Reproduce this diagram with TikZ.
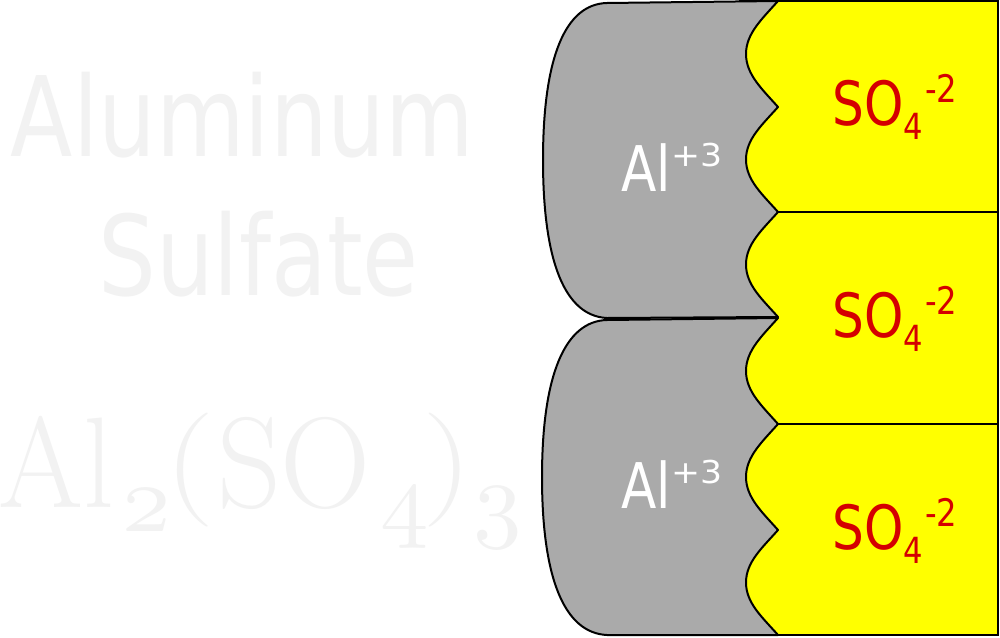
\documentclass[tikz,border=0pt]{standalone}
\usepackage{fontspec}
\usepackage{graphicx}
\newfontfamily\tahA[FakeStretch=0.82]{DejaVu Sans}
\newfontfamily\tahB[FakeStretch=1.1]{DejaVu Sans}
\newfontfamily\tahC[FakeStretch=0.85]{DejaVu Sans}
\definecolor{alu}{HTML}{AAAAAA}
\definecolor{sored}{HTML}{D40000}
\definecolor{ghostgray}{HTML}{F2F2F2}
\definecolor{soyellow}{HTML}{FFFF00}
\newcommand{\osdig}[1]{\scalebox{9.7}{$\mathnormal{#1}$}}
\begin{document}
\begin{tikzpicture}[x=1pt,y=-1pt,
  ionshape/.style={draw=black, line width=2pt, fill=alu, line join=round},
  sobox/.style={draw=black, line width=2pt, fill=soyellow},
  lab/.style={inner sep=0pt, outer sep=0pt, anchor=base west},
  ghost/.style={text=ghostgray, inner sep=0pt, outer sep=0pt, anchor=base west}]
\useasboundingbox (0,0) rectangle (1000,637);
\fill[white] (0,0) rectangle (1000,637);

% background texts
\node[ghost, anchor=base] (w1) at (242.5,156) {\tahA\fontsize{111}{111}\selectfont Aluminum};
\node[ghost, anchor=base] (w2) at (258.5,295) {\tahA\fontsize{111}{111}\selectfont Sulfate};
\node[ghost] (f1) at (-1.5,507) {\scalebox{0.95}[1]{\fontsize{129}{129}\selectfont Al}};
\node[ghost] (f2) at (122,531) {\osdig{2}};
\node[ghost] (f3) at (164,498.5) {\scalebox{1.25}[1]{\fontsize{114}{114}\selectfont (}};
\node[ghost] (f4) at (217,507) {\scalebox{0.97}[1]{\fontsize{129}{129}\selectfont SO}};
\node[ghost] (f5) at (380,529) {\osdig{4}};
\node[ghost] (f6) at (422.5,498.5) {\scalebox{1.25}[1]{\fontsize{114}{114}\selectfont )}};
\node[ghost] (f7) at (473,529) {\osdig{3}};

% sulfate boxes
\draw[sobox] (740,1) rectangle (998,212);
\draw[sobox] (740,212) rectangle (998,424);
\draw[sobox] (740,424) rectangle (998,635);

% aluminum shapes
\draw[ionshape] (607,3) -- (778,1)
  .. controls (762,19) and (746,33.5) .. (746,54)
  .. controls (746,74.5) and (762,89) .. (778,107)
  .. controls (762,125) and (746,139) .. (746,159.5)
  .. controls (746,180) and (762,194) .. (778,212)
  .. controls (762,230) and (746,244) .. (746,264.5)
  .. controls (746,285) and (762,299) .. (778,317)
  -- (607,318)
  .. controls (565,316) and (543,262) .. (543,160)
  .. controls (543,58) and (565,4) .. (607,3) -- cycle;
\draw[ionshape] (607,320) -- (778,318)
  .. controls (762,336) and (746,350.5) .. (746,371)
  .. controls (746,391.5) and (762,406) .. (778,424)
  .. controls (762,442) and (746,456.5) .. (746,477)
  .. controls (746,497.5) and (762,512) .. (778,530)
  .. controls (762,548) and (746,562) .. (746,582.5)
  .. controls (746,603) and (762,617) .. (778,635)
  -- (607,635)
  .. controls (565,633) and (542,580) .. (542,477)
  .. controls (542,375) and (565,321) .. (607,320) -- cycle;

% labels
\node[lab, text=white] (al1) at (621.5,191) {\tahA\fontsize{63}{63}\selectfont Al\raisebox{25pt}{\tahB\fontsize{31.5}{31.5}\selectfont +3}};
\node[lab, text=white] (al2) at (621.5,508) {\tahA\fontsize{63}{63}\selectfont Al\raisebox{25pt}{\tahB\fontsize{31.5}{31.5}\selectfont +3}};
\node[lab, text=sored] (so1) at (832.5,125.5) {\tahA\fontsize{61}{61}\selectfont SO\raisebox{-13.5pt}{\tahC\fontsize{36}{36}\selectfont 4}\hspace{2pt}\raisebox{23pt}{\tahC\fontsize{38}{38}\selectfont -2}};
\node[lab, text=sored] (so2) at (832.5,337.5) {\tahA\fontsize{61}{61}\selectfont SO\raisebox{-13.5pt}{\tahC\fontsize{36}{36}\selectfont 4}\hspace{2pt}\raisebox{23pt}{\tahC\fontsize{38}{38}\selectfont -2}};
\node[lab, text=sored] (so3) at (832.5,549.5) {\tahA\fontsize{61}{61}\selectfont SO\raisebox{-13.5pt}{\tahC\fontsize{36}{36}\selectfont 4}\hspace{2pt}\raisebox{23pt}{\tahC\fontsize{38}{38}\selectfont -2}};
\end{tikzpicture}
\end{document}
